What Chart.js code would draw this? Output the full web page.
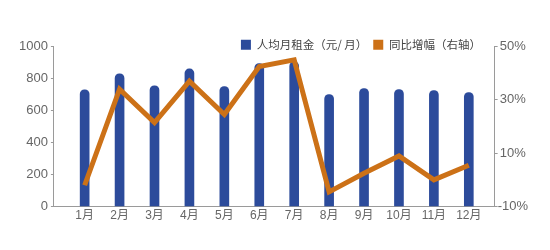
<!DOCTYPE html>
<html>
<head>
<meta charset="utf-8">
<script src="https://cdn.jsdelivr.net/npm/chart.js@4"></script>
<style>
  html, body { margin: 0; padding: 0; background: #fff; }
  #wrap { width: 550px; height: 250px; position: relative; }
</style>
</head>
<body>
<div id="wrap"><canvas id="rentChart"></canvas></div>
<script>
/* 月度租金 + 同比增幅 */

const MONTHS = ['1月', '2月', '3月', '4月', '5月', '6月', '7月', '8月', '9月', '10月', '11月', '12月'];
const RENT   = [730, 830, 755, 860, 750, 893, 905, 700, 737, 731, 725, 712];
const YOY    = [-2, 34, 21.5, 37, 24.5, 42.5, 45, -4.5, 2.5, 9, 0, 5.5];
const RENT_TICKS = [0, 200, 400, 600, 800, 1000];
const YOY_TICKS  = [-10, 10, 30, 50];

const BLUE   = '#2c4b9b';
const ORANGE = '#cc7117';
const AXIS   = '#9a9a9a';
const TEXT   = '#666';
const FONT   = '"Liberation Sans", "Noto Sans CJK SC", sans-serif';

// legend sits over the top edge of the plot, like the original
const legendShift = {
  id: 'legendShift',
  afterLayout(chart) {
    const lg = chart.legend;
    if (!lg) return;
    const dy = 33 - lg.top;
    const dx = 487 - lg.right;
    lg.top += dy; lg.bottom += dy;
    lg.left += dx; lg.right += dx;
    lg.legendHitBoxes.forEach(h => { h.top += dy; h.left += dx; });
  }
};

new Chart(document.getElementById('rentChart'), {
  data: {
    datasets: [
      {
        type: 'bar',
        label: '人均月租金（元/ 月）',
        data: RENT.map((v, i) => ({ x: i, y: v })),
        backgroundColor: BLUE,
        barThickness: 9,
        borderRadius: 5,
        borderSkipped: 'start',
        yAxisID: 'y',
        order: 1
      },
      {
        type: 'line',
        label: '同比增幅（右轴）',
        data: YOY.map((v, i) => ({ x: i, y: v })),
        borderColor: ORANGE,
        backgroundColor: ORANGE,
        borderWidth: 5,
        pointRadius: 0,
        tension: 0,
        borderJoinStyle: 'miter',
        yAxisID: 'y1',
        order: 0
      }
    ]
  },
  options: {
    responsive: true,
    maintainAspectRatio: false,
    animation: false,
    layout: { padding: { top: 19, left: 16, right: 22, bottom: 25 } },
    plugins: {
      legend: {
        display: true,
        position: 'top',
        align: 'end',
        labels: {
          sort: (a, b) => a.datasetIndex - b.datasetIndex,
          boxWidth: 10, boxHeight: 10, padding: 6,
          color: '#444',
          font: { family: '"Noto Sans CJK SC", sans-serif', size: 11.5 },
          generateLabels: chart => chart.data.datasets.map((ds, i) => ({
            text: ds.label, fillStyle: ds.backgroundColor, strokeStyle: ds.backgroundColor,
            lineWidth: 0, datasetIndex: i, fontColor: '#444'
          }))
        }
      },
      tooltip: { enabled: false }
    },
    scales: {
      x: {
        type: 'linear',
        offset: false,
        min: -0.88, max: 11.74,
        afterBuildTicks: scale => { scale.ticks = MONTHS.map((m, i) => ({ value: i })); },
        grid: { drawOnChartArea: false, drawTicks: false },
        border: { display: true, color: AXIS, width: 1 },
        ticks: { padding: 2, color: TEXT, font: { family: FONT, size: 12 }, callback: v => MONTHS[v] }
      },
      y: {
        position: 'left',
        min: 0, max: 1000,
        afterBuildTicks: scale => { scale.ticks = RENT_TICKS.map(v => ({ value: v })); },
        grid: { drawOnChartArea: false, drawTicks: true, tickLength: 3, color: AXIS },
        border: { display: true, color: AXIS, width: 1 },
        ticks: { padding: 3, color: TEXT, font: { family: FONT, size: 13 }, callback: v => String(v) }
      },
      y1: {
        position: 'right',
        min: -10, max: 50,
        afterBuildTicks: scale => { scale.ticks = YOY_TICKS.map(v => ({ value: v })); },
        grid: { drawOnChartArea: false, drawTicks: true, tickLength: 3, color: AXIS },
        border: { display: true, color: AXIS, width: 1 },
        ticks: { padding: 0, crossAlign: 'center', color: TEXT, font: { family: FONT, size: 13 }, callback: v => v + '%' }
      }
    }
  },
  plugins: [legendShift]
});
</script>
</body>
</html>
